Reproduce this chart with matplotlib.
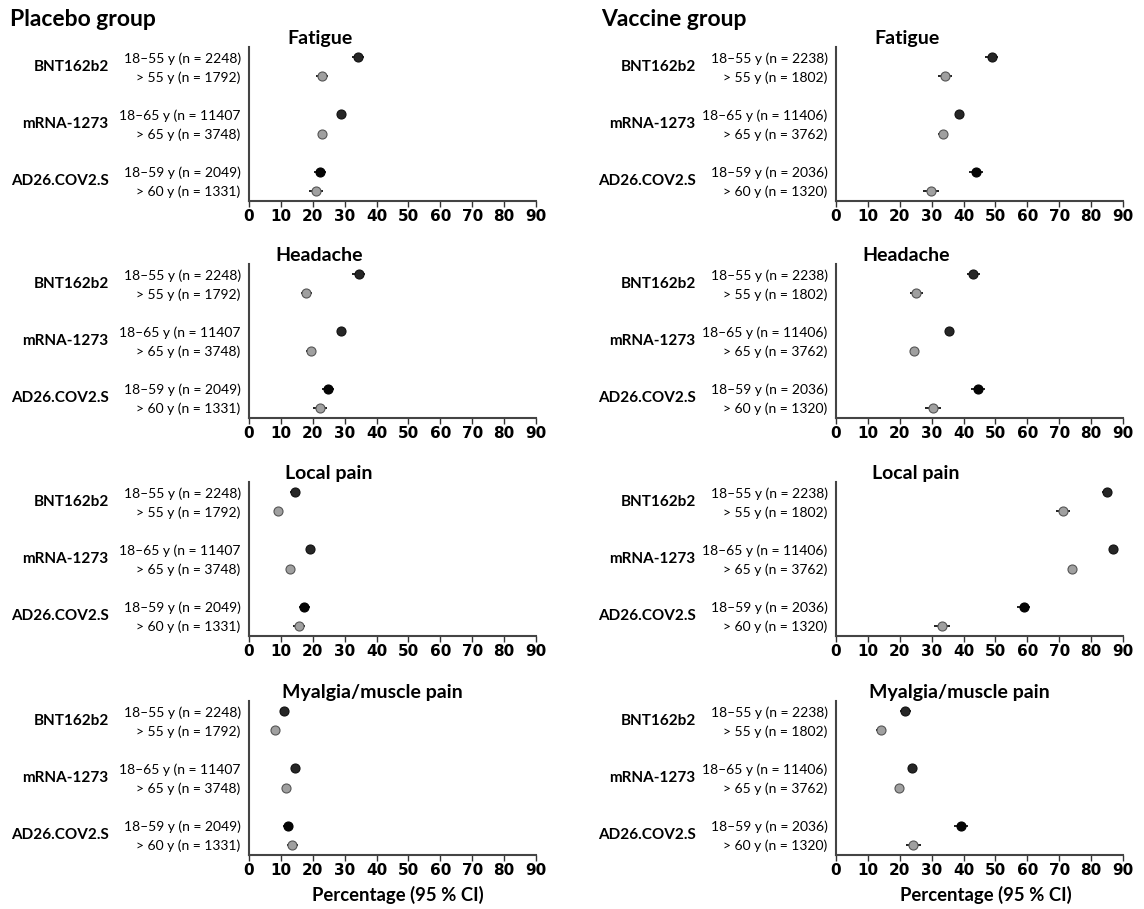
import matplotlib
matplotlib.use("Agg")
import matplotlib.pyplot as plt

plt.rcParams["font.family"] = ["Lato", "DejaVu Sans"]

# Categories and labels
symptoms = ["Fatigue", "Headache", "Local pain", "Myalgia/muscle pain"]
vaccines = ["BNT162b2", "mRNA-1273", "AD26.COV2.S"]
placebo_ages = ["18–55 y (n = 2248)", "> 55 y (n = 1792)",
                "18–65 y (n = 11407", "> 65 y (n = 3748)",
                "18–59 y (n = 2049)", "> 60 y (n = 1331)"]
vaccine_ages = ["18–55 y (n = 2238)", "> 55 y (n = 1802)",
                "18–65 y (n = 11406)", "> 65 y (n = 3762)",
                "18–59 y (n = 2036)", "> 60 y (n = 1320)"]
xticks = [0, 10, 20, 30, 40, 50, 60, 70, 80, 90]

# Percentages (order: BNT young, BNT old, mRNA young, mRNA old, AD26 young, AD26 old)
placebo_fatigue = [34.2, 22.8, 28.9, 22.8, 22.2, 20.9]
placebo_fatigue_ci = [1.9, 1.9, 0.8, 1.3, 1.8, 2.2]
placebo_headache = [34.4, 18.0, 28.9, 19.3, 24.8, 22.2]
placebo_headache_ci = [2.0, 1.8, 0.8, 1.3, 1.9, 2.2]
placebo_local = [14.3, 9.2, 19.1, 12.9, 17.4, 15.6]
placebo_local_ci = [1.4, 1.3, 0.7, 1.1, 1.6, 1.9]
placebo_myalgia = [11.0, 8.3, 14.3, 11.7, 12.1, 13.6]
placebo_myalgia_ci = [1.3, 1.3, 0.6, 1.0, 1.4, 1.8]

vaccine_fatigue = [48.8, 34.3, 38.5, 33.4, 43.9, 29.8]
vaccine_fatigue_ci = [2.1, 2.2, 0.9, 1.5, 2.2, 2.5]
vaccine_headache = [43.0, 25.2, 35.4, 24.6, 44.5, 30.5]
vaccine_headache_ci = [2.0, 2.0, 0.9, 1.4, 2.2, 2.5]
vaccine_local = [85.0, 71.2, 86.8, 74.0, 58.8, 33.3]
vaccine_local_ci = [1.5, 2.1, 0.6, 1.4, 2.1, 2.5]
vaccine_myalgia = [21.7, 14.1, 23.7, 19.9, 39.2, 24.2]
vaccine_myalgia_ci = [1.7, 1.6, 0.8, 1.3, 2.1, 2.3]

placebo_panels = [(placebo_fatigue, placebo_fatigue_ci), (placebo_headache, placebo_headache_ci),
                  (placebo_local, placebo_local_ci), (placebo_myalgia, placebo_myalgia_ci)]
vaccine_panels = [(vaccine_fatigue, vaccine_fatigue_ci), (vaccine_headache, vaccine_headache_ci),
                  (vaccine_local, vaccine_local_ci), (vaccine_myalgia, vaccine_myalgia_ci)]

W, H = 1144, 909
fig = plt.figure(figsize=(W / 100, H / 100), dpi=100)

rows_pos = [0, 1, 3, 4, 6, 7]
face = ["#262626", "#a0a0a0", "#262626", "#a0a0a0", "#050505", "#a0a0a0"]
edge = ["#111111", "#555555", "#111111", "#555555", "#000000", "#555555"]
panel_tops = [47, 264, 482, 701]
panel_h = 154
title_dx = [71, 70, 80, 123]


def draw_panel(ax, vals, cis, ages, title, dx):
    for i, y in enumerate(rows_pos):
        ax.errorbar(vals[i], y, xerr=cis[i], fmt="o", ms=6.5, mfc=face[i], mec=edge[i],
                    mew=0.8, ecolor="#222222", elinewidth=1.4, capsize=0, zorder=3)
    ax.set_xlim(0, 90)
    ax.set_ylim(7.55, -0.55)
    ax.set_xticks(xticks)
    ax.set_xticklabels([str(t) for t in xticks], fontweight="bold", fontsize=11,
                       family=["Liberation Sans Narrow", "DejaVu Sans"])
    ax.set_yticks(rows_pos)
    ax.set_yticklabels(ages, fontsize=10)
    ax.tick_params(axis="y", length=0, pad=6)
    ax.tick_params(axis="x", length=4, width=1, direction="out", pad=1.5, color="#333333")
    for s in ["top", "right"]:
        ax.spines[s].set_visible(False)
    for s in ["left", "bottom"]:
        ax.spines[s].set_color("#444444")
        ax.spines[s].set_linewidth(1.5)
    for k, name in enumerate(vaccines):
        ax.annotate(name, xy=(0, rows_pos[2 * k] + 0.5), xycoords=ax.get_yaxis_transform(),
                    xytext=(-101, 0), textcoords="offset points", ha="right", va="center",
                    fontsize=11, fontweight="bold")
    ax.text(dx / 287, 1.0, title, transform=ax.transAxes, ha="center", va="bottom",
            fontsize=14, fontweight="bold")


for r in range(4):
    bottom = (H - panel_tops[r] - panel_h) / H
    axl = fig.add_axes([249 / W, bottom, 287 / W, panel_h / H])
    draw_panel(axl, placebo_panels[r][0], placebo_panels[r][1], placebo_ages, symptoms[r], title_dx[r])
    axr = fig.add_axes([836 / W, bottom, 287 / W, panel_h / H])
    draw_panel(axr, vaccine_panels[r][0], vaccine_panels[r][1], vaccine_ages, symptoms[r], title_dx[r])

fig.text(10 / W, 1 - 20 / H, "Placebo group", fontsize=16.5, fontweight="bold", va="center")
fig.text(601 / W, 1 - 20 / H, "Vaccine group", fontsize=16.5, fontweight="bold", va="center")
fig.text(398 / W, 1 - 895 / H, "Percentage (95 % CI)", fontsize=13.3, fontweight="bold",
         ha="center", va="center")
fig.text(986 / W, 1 - 895 / H, "Percentage (95 % CI)", fontsize=13.3, fontweight="bold",
         ha="center", va="center")

fig.savefig("out.png", dpi=100)
